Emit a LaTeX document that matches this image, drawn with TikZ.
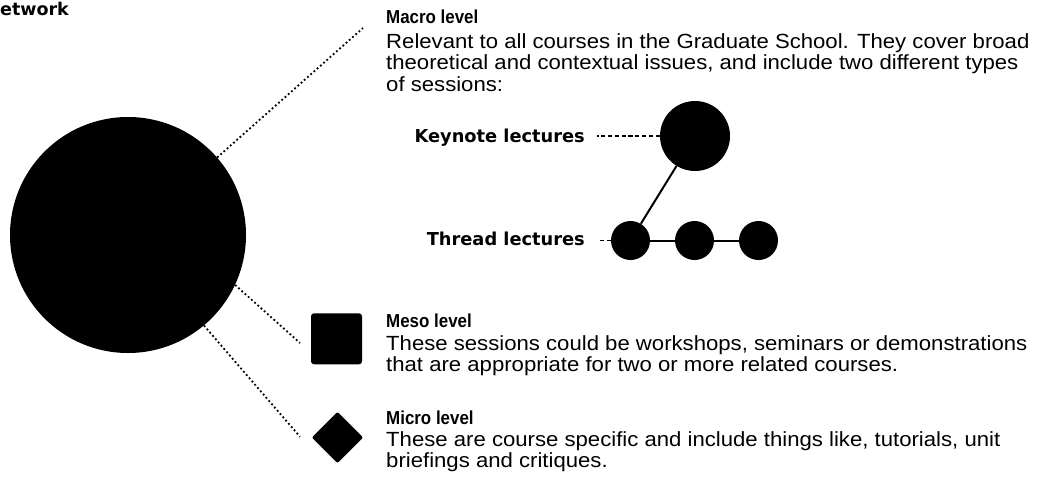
\documentclass[tikz,border=0pt]{standalone}
\usepackage{fontspec}
\setmainfont{Liberation Sans}
\newfontfamily\bodyfont[FakeStretch=1.08]{Liberation Sans}
\newfontfamily\headfont[FakeStretch=0.9]{Liberation Sans}
\newfontfamily\labelfont{DejaVu Sans}
\usetikzlibrary{shapes.geometric}
\begin{document}
\begin{tikzpicture}[x=1pt,y=-1pt,
  dotline/.style={line width=1.8pt, dash pattern=on 1.8pt off 2.5pt},
  dashline/.style={line width=1.8pt, dash pattern=on 4.3pt off 2.5pt},
  link/.style={line width=2pt},
  dot/.style={circle, fill=black, inner sep=0pt, minimum size=#1},
  heading/.style={anchor=base west, inner sep=0pt, font=\headfont\bfseries\fontsize{18.8}{18.8}\selectfont},
  body/.style={anchor=base west, inner sep=0pt, align=left, font=\bodyfont\fontsize{20.5}{21.4}\selectfont},
  lbl/.style={anchor=base east, inner sep=0pt, font=\labelfont\bfseries\fontsize{17.8}{17.8}\selectfont}]
\useasboundingbox (0,0) rectangle (1038,477);
% title fragment
\node[anchor=base west, inner sep=0pt, font=\labelfont\bfseries\fontsize{17.5}{17.5}\selectfont] (net) at (0,15) {etwork};
% big circle
\node[dot=236pt] (big) at (128,235) {};
% macro text (body anchored at its last baseline)
\node[heading] (macroh) at (386,23.3) {Macro level};
\node[body] (macrob) at (386,91) {Relevant to all courses in the Graduate School. They cover broad\\theoretical and contextual issues, and include two different types\\of sessions:};
\coordinate (macroend) at (363,28);
\draw[dotline] (big.41) -- (macroend);
% keynote and thread
\node[dot=70pt] (key) at (695,136) {};
\node[dot=39pt] (t1) at (630.5,240.5) {};
\node[dot=39pt] (t2) at (694.5,240.5) {};
\node[dot=39pt] (t3) at (758.5,240.5) {};
\draw[link] (key) -- (t1);
\draw[link] (t1) -- (t2);
\draw[link] (t2) -- (t3);
\node[lbl] (keylbl) at (585,142.3) {Keynote lectures};
\node[lbl] (thrlbl) at (585,245) {Thread lectures};
\draw[dashline] (key.west) -- ++(-63,0);
\draw[dashline] (t1.west) -- ++(-13,0);
% meso
\node[fill=black, rounded corners=3pt, minimum size=51pt, inner sep=0pt] (meso) at (336.5,338.8) {};
\node[heading] (mesoh) at (386,327.7) {Meso level};
\node[body] (mesob) at (386,371.7) {These sessions could be workshops, seminars or demonstrations\\that are appropriate for two or more related courses.};
\coordinate (mesoend) at (300,343);
\draw[dotline] (big.-25.5) -- (mesoend);
% micro
\node[diamond, aspect=1, fill=black, rounded corners=2pt, minimum size=51.6pt, inner sep=0pt] (micro) at (337.5,437.5) {};
\node[heading] (microh) at (386,424.3) {Micro level};
\node[body] (microb) at (386,467.8) {These are course specific and include things like, tutorials, unit\\briefings and critiques.};
\coordinate (microend) at (300,436.7);
\draw[dotline] (big.-50) -- (microend);
\end{tikzpicture}
\end{document}
